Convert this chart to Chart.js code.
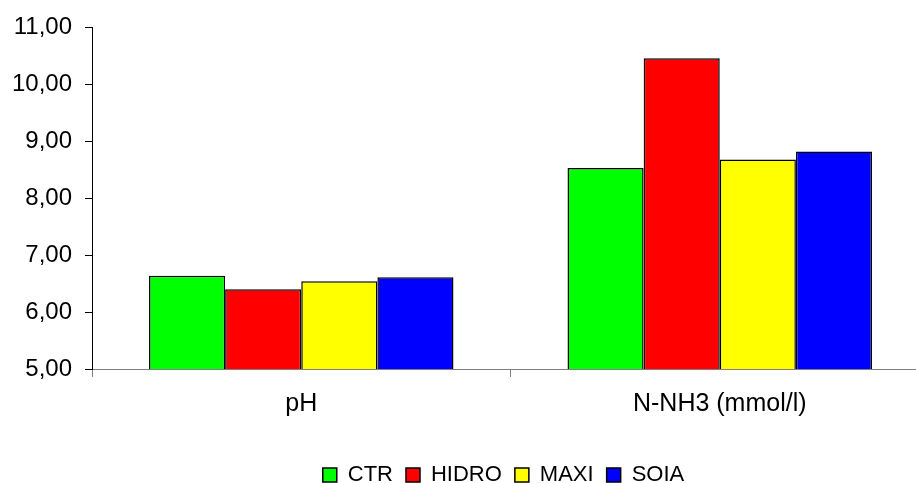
<!DOCTYPE html>
<html>
<head>
<meta charset="utf-8">
<script src="https://cdn.jsdelivr.net/npm/chart.js@4/dist/chart.umd.min.js"></script>
<style>
html, body { margin: 0; padding: 0; background: #fff; overflow: hidden; width: 916px; height: 483px; }
canvas { display: block; }
</style>
</head>
<body>
<canvas id="c" width="930" height="483"></canvas>
<script>
const categories = ['pH', 'N-NH3 (mmol/l)'];
const seriesNames = ['CTR', 'HIDRO', 'MAXI', 'SOIA'];
const ctrValues = [6.64, 8.53];
const hidroValues = [6.40, 10.46];
const maxiValues = [6.54, 8.68];
const soiaValues = [6.61, 8.82];
const yTicks = [5, 6, 7, 8, 9, 10, 11];
const seriesColors = ['#00FF00', '#FF0000', '#FFFF00', '#0000FF'];

const seriesValues = [ctrValues, hidroValues, maxiValues, soiaValues];
const FONT = '"Liberation Sans", Arial, sans-serif';

const datasets = seriesNames.map((name, i) => ({
  label: name,
  data: seriesValues[i],
  backgroundColor: seriesColors[i],
  borderColor: '#000000',
  borderWidth: 1.5,
  borderSkipped: false,
  categoryPercentage: 0.7275,
  barPercentage: 1.0
}));

const legendShift = {
  id: 'legendShift',
  afterLayout(chart) {
    if (chart.legend) { chart.legend.left -= 7; chart.legend.right -= 7; }
  }
};

new Chart(document.getElementById('c'), {
  type: 'bar',
  data: { labels: categories, datasets },
  plugins: [legendShift],
  options: {
    responsive: false,
    animation: false,
    layout: { padding: { top: 26, left: 0, right: 1, bottom: -13 } },
    plugins: {
      tooltip: { enabled: false },
      legend: {
        position: 'bottom',
        fullSize: false,
        labels: {
          color: '#000',
          font: { family: FONT, size: 22 },
          boxWidth: 14,
          boxHeight: 14,
          padding: 13
        }
      }
    },
    scales: {
      x: {
        grid: { display: true, drawOnChartArea: false, offset: true, tickLength: 8, color: '#808080' },
        border: { color: '#808080', width: 1 },
        ticks: { color: '#000', font: { family: FONT, size: 25 }, padding: 12 },
        afterFit: s => { s.height = 82; }
      },
      y: {
        min: 5,
        max: 11,
        afterBuildTicks: s => { s.ticks = yTicks.map(v => ({ value: v })); },
        grid: { display: true, drawOnChartArea: false, tickLength: 7, color: '#000' },
        border: { color: '#000', width: 1 },
        ticks: {
          color: '#000',
          font: { family: FONT, size: 24 },
          padding: 13,
          callback: v => Number(v).toFixed(2).replace('.', ',')
        },
        afterFit: s => { s.width = 92; }
      }
    }
  }
});
</script>
</body>
</html>
